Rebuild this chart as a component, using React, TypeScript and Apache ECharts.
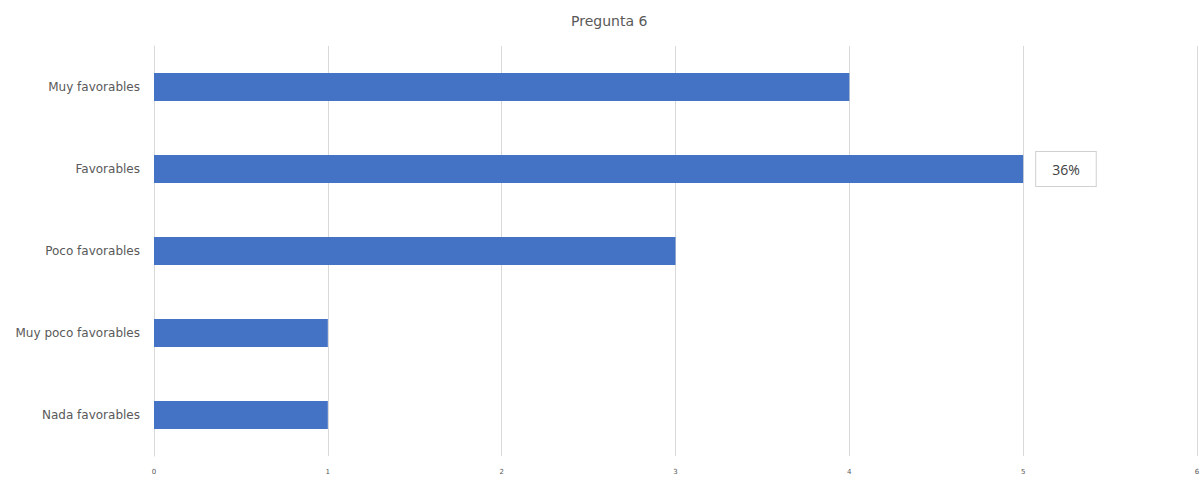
import React, { useEffect, useRef } from "react";
import * as echarts from "echarts";

const title = "Pregunta 6";
const categories = ["Muy favorables", "Favorables", "Poco favorables", "Muy poco favorables", "Nada favorables"];
const values = [4, 5, 3, 1, 1];
const labels = ["", "36%", "", "", ""];
const xTicks = [0, 1, 2, 3, 4, 5, 6];

export default function App() {
  const ref = useRef<HTMLDivElement>(null);
  useEffect(() => {
    if (!ref.current) return;
    const chart = echarts.init(ref.current, undefined, { renderer: "svg" });
    chart.setOption({
      animation: false,
      backgroundColor: "#ffffff",
      title: {
        text: title,
        left: 571,
        top: 14,
        padding: 0,
        textStyle: { fontFamily: "DejaVu Sans", fontSize: 14, fontWeight: "normal", color: "#595959" },
      },
      grid: { left: 154, right: 6, top: 46, bottom: 22, containLabel: false },
      xAxis: {
        type: "value",
        min: xTicks[0],
        max: xTicks[xTicks.length - 1],
        interval: 1,
        axisLine: { show: false },
        axisTick: { show: false },
        splitLine: { show: true, lineStyle: { color: "#d9d9d9", width: 1 } },
        axisLabel: { fontFamily: "DejaVu Sans", fontSize: 7, color: "#595959", margin: 12 },
      },
      yAxis: {
        type: "category",
        data: categories,
        inverse: true,
        axisLine: { show: true, lineStyle: { color: "#d9d9d9" } },
        axisTick: { show: false },
        axisLabel: { fontFamily: "DejaVu Sans", fontSize: 12, color: "#595959", margin: 14 },
      },
      series: [
        {
          type: "bar",
          barWidth: 28,
          itemStyle: { color: "#4472C4" },
          data: values.map((v, i) => ({
            value: v,
            label: labels[i]
              ? {
                  show: true,
                  position: "right",
                  distance: 13,
                  formatter: labels[i],
                  fontFamily: "Open Sans",
                  fontSize: 14,
                  color: "#404040",
                  borderColor: "#d0d0d0",
                  borderWidth: 1,
                  padding: [10, 16, 10, 16],
                  backgroundColor: "#ffffff",
                }
              : { show: false },
          })),
        },
      ],
    });
    return () => chart.dispose();
  }, []);
  return <div ref={ref} style={{ position: "fixed", left: 0, top: 0, width: 1203, height: 478 }} />;
}
